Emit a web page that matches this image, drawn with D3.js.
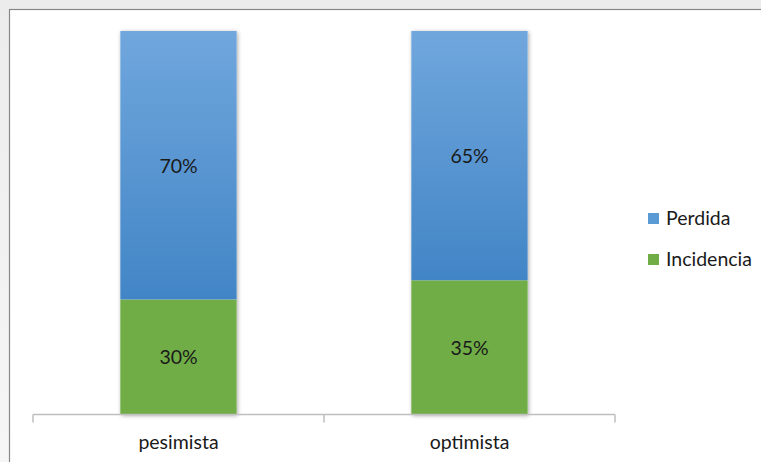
<!DOCTYPE html>
<html>
<head>
<meta charset="utf-8">
<script src="https://cdn.jsdelivr.net/npm/d3@7"></script>
<style>
  html, body { margin: 0; padding: 0; background: #f1f1f1; }
  svg { display: block; }
  text { font-family: Lato, "Open Sans", "Liberation Sans", sans-serif; fill: #1a1a1a; }
</style>
</head>
<body>
<script>
// Scenario categories and stacked shares (percent)
const categories = ["pesimista", "optimista"];
const incidencia = [30, 35];
const perdida = [70, 65];
const seriesNames = ["Incidencia", "Perdida"];
const legendOrder = ["Perdida", "Incidencia"];

const W = 761, H = 462;
const FS = 19.5;
const svg = d3.select("body").append("svg").attr("width", W).attr("height", H);
const defs = svg.append("defs");

// soft backdrop outside the chart frame
const bgGrad = defs.append("linearGradient").attr("id", "bg").attr("x1", 0).attr("y1", 0).attr("x2", 0).attr("y2", 1);
bgGrad.append("stop").attr("offset", 0).attr("stop-color", "#ececec");
bgGrad.append("stop").attr("offset", 1).attr("stop-color", "#f6f6f6");
svg.append("rect").attr("width", W).attr("height", H).attr("fill", "url(#bg)");

// chart frame
svg.append("rect").attr("x", 9.5).attr("y", 9.5).attr("width", W + 20).attr("height", H + 20)
  .attr("fill", "#ffffff").attr("stroke", "#878787").attr("stroke-width", 1.2);

// blue gradient for the upper segment
const blue = defs.append("linearGradient").attr("id", "blueGrad").attr("x1", 0).attr("y1", 0).attr("x2", 0).attr("y2", 1);
blue.append("stop").attr("offset", 0).attr("stop-color", "#70a7dd");
blue.append("stop").attr("offset", 1).attr("stop-color", "#4285c6");

// soft shadow around bars
const sh = defs.append("filter").attr("id", "shadow").attr("x", "-20%").attr("y", "-10%").attr("width", "140%").attr("height", "120%");
sh.append("feDropShadow").attr("dx", 1).attr("dy", 1).attr("stdDeviation", 2.2)
  .attr("flood-color", "#000").attr("flood-opacity", 0.35);

const x = d3.scaleBand().domain(categories).range([33, 615]).paddingInner(0.6).paddingOuter(0.3);
const y = d3.scaleLinear().domain([0, 100]).range([414.5, 31]);

const rows = categories.map((c, i) => ({ cat: c, Incidencia: incidencia[i], Perdida: perdida[i] }));
const stacked = d3.stack().keys(seriesNames)(rows);
const fills = { Incidencia: "#70ad47", Perdida: "url(#blueGrad)" };
const legendFills = { Incidencia: "#70ad47", Perdida: "#5b9bd5" };

// shadows drawn under the whole bars
svg.append("g").selectAll("rect").data(rows).join("rect")
  .attr("x", d => x(d.cat)).attr("width", x.bandwidth())
  .attr("y", y(100)).attr("height", y(0) - y(100))
  .attr("fill", "#fff").attr("filter", "url(#shadow)");

const layer = svg.append("g").selectAll("g").data(stacked).join("g").attr("fill", d => fills[d.key]);
layer.selectAll("rect").data(d => d).join("rect")
  .attr("x", d => x(d.data.cat)).attr("width", x.bandwidth())
  .attr("y", d => y(d[1])).attr("height", d => y(d[0]) - y(d[1]));

// value labels
layer.selectAll("text").data(d => d).join("text")
  .attr("x", d => x(d.data.cat) + x.bandwidth() / 2)
  .attr("y", d => (y(d[0]) + y(d[1])) / 2 + 7.5)
  .attr("text-anchor", "middle").attr("font-size", FS)
  .attr("fill", "#1a1a1a")
  .text(d => (d[1] - d[0]) + "%");

// category axis
const axisG = svg.append("g").attr("transform", `translate(0,${y(0)})`);
axisG.append("line").attr("x1", 33).attr("x2", 615).attr("stroke", "#bfbfbf").attr("stroke-width", 1.5);
const edges = [33, ...categories.slice(1).map(c => x(c) - x.step() * x.paddingInner() / 2), 615];
axisG.selectAll("line.tick").data(edges).join("line").attr("class", "tick")
  .attr("x1", d => d).attr("x2", d => d).attr("y1", 0).attr("y2", 8)
  .attr("stroke", "#bfbfbf").attr("stroke-width", 1.5);
axisG.selectAll("text").data(categories).join("text")
  .attr("x", d => x(d) + x.bandwidth() / 2).attr("y", 34)
  .attr("text-anchor", "middle").attr("font-size", FS).text(d => d);

// legend
const lg = svg.append("g").selectAll("g").data(legendOrder).join("g")
  .attr("transform", (d, i) => `translate(648,${213 + i * 41})`);
lg.append("rect").attr("width", 11).attr("height", 11).attr("fill", d => legendFills[d]);
lg.append("text").attr("x", 18).attr("y", 12).attr("font-size", FS).text(d => d);
</script>
</body>
</html>
